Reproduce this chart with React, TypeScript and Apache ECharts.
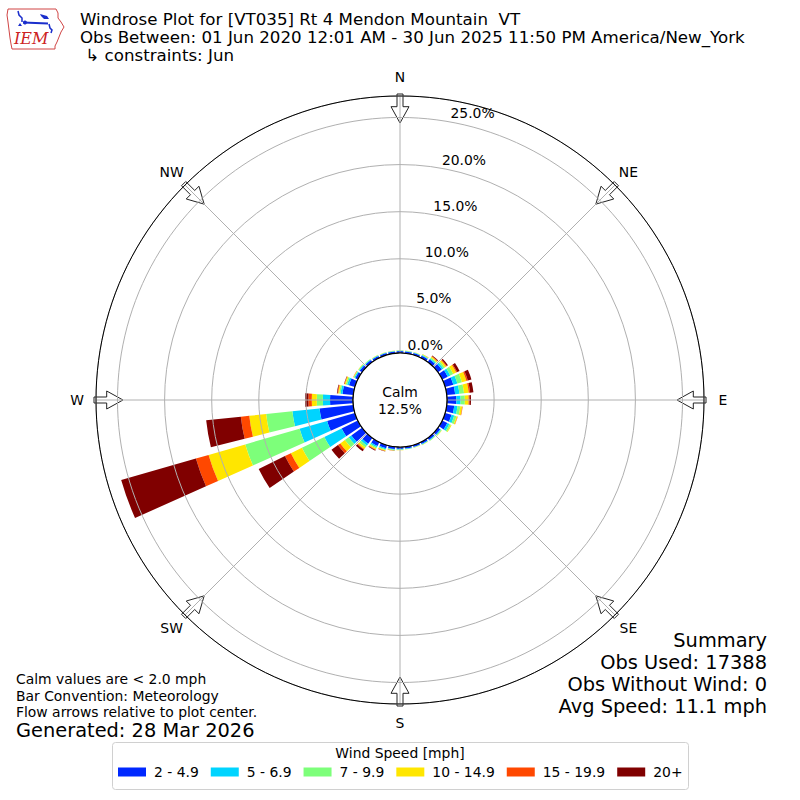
import React, { useEffect, useRef } from 'react';
import * as echarts from 'echarts';

// ---------- data ----------
const directions = [0, 10, 20, 30, 40, 50, 60, 70, 80, 90, 100, 110, 120, 130, 140, 150, 160, 170,
  180, 190, 200, 210, 220, 230, 240, 250, 260, 270, 280, 290, 300, 310, 320, 330, 340, 350];

const speedBins = ['2 - 4.9', '5 - 6.9', '7 - 9.9', '10 - 14.9', '15 - 19.9', '20+'];

// percent of observations per direction for each speed bin
const speed2to5 = [0.2, 0.2, 0.2, 0.25, 0.35, 0.5, 0.65, 0.9, 0.9, 1.0, 0.8, 0.7, 0.6, 0.3, 0.25, 0.22, 0.2, 0.2,
  0.2, 0.25, 0.35, 0.45, 0.75, 1.4, 1.9, 3.06, 3.6, 2.44, 1.15, 0.65, 0.3, 0.3, 0.25, 0.22, 0.2, 0.2];
const speed5to7 = [0.05, 0.05, 0.05, 0.08, 0.12, 0.2, 0.3, 0.45, 0.45, 0.45, 0.35, 0.3, 0.25, 0.1, 0.08, 0.07, 0.05, 0.05,
  0.07, 0.08, 0.12, 0.15, 0.25, 0.35, 2.05, 3.04, 2.9, 0.76, 0.2, 0.2, 0.1, 0.1, 0.08, 0.07, 0.05, 0.05];
const speed7to10 = [0.03, 0.03, 0.03, 0.06, 0.12, 0.2, 0.35, 0.5, 0.5, 0.45, 0.3, 0.25, 0.17, 0.07, 0.05, 0.04, 0.03, 0.03,
  0.05, 0.06, 0.1, 0.15, 0.25, 0.5, 2.65, 6.0, 2.8, 0.65, 0.15, 0.15, 0.08, 0.06, 0.05, 0.04, 0.03, 0.03];
const speed10to15 = [0.02, 0.02, 0.02, 0.04, 0.12, 0.18, 0.35, 0.5, 0.5, 0.4, 0.2, 0.12, 0.08, 0.03, 0.02, 0.02, 0.02, 0.02,
  0.03, 0.04, 0.08, 0.12, 0.2, 0.6, 1.3, 4.05, 1.8, 0.53, 0.12, 0.12, 0.05, 0.04, 0.02, 0.02, 0.02, 0.02];
const speed15to20 = [0, 0, 0, 0.01, 0.06, 0.08, 0.12, 0.15, 0.15, 0.1, 0.05, 0.03, 0, 0, 0, 0, 0, 0,
  0, 0.01, 0.03, 0.05, 0.1, 0.3, 0.7, 1.4, 0.9, 0.36, 0.07, 0.05, 0.02, 0, 0, 0, 0, 0];
const speed20plus = [0, 0, 0, 0.01, 0.08, 0.14, 0.28, 0.4, 0.35, 0.15, 0, 0, 0, 0, 0, 0, 0, 0,
  0, 0.01, 0.02, 0.08, 0.2, 0.85, 3.1, 8.25, 3.7, 0.36, 0.06, 0.03, 0, 0, 0, 0, 0, 0];

const radialTicks = [0, 5, 10, 15, 20, 25];
const radialMax = 27.28;
const compassLabels = ['N', 'NE', 'E', 'SE', 'S', 'SW', 'W', 'NW'];
const compassAngles = [0, 45, 90, 135, 180, 225, 270, 315];

const calmPercent = '12.5%';
const titleLines = [
  'Windrose Plot for [VT035] Rt 4 Mendon Mountain  VT',
  'Obs Between: 01 Jun 2020 12:01 AM - 30 Jun 2025 11:50 PM America/New_York',
  ' \u21b3 constraints: Jun',
];
const noteLines = ['Calm values are < 2.0 mph', 'Bar Convention: Meteorology', 'Flow arrows relative to plot center.'];
const generatedText = 'Generated: 28 Mar 2026';
const summaryLines = ['Summary', 'Obs Used: 17388', 'Obs Without Wind: 0', 'Avg Speed: 11.1 mph'];

const binColors = ['#0028ff', '#00d4ff', '#7dff7a', '#ffe600', '#ff4800', '#800000'];

// ---------- layout ----------
const CX = 400;
const CY = 400;
const R0 = 47;
const R1 = 304;
const FONT = 'DejaVu Sans';
const F10 = 13.9;
const F12 = 16.67;
const F14 = 19.4;

function rOf(v: number) {
  return R0 + (v / radialMax) * (R1 - R0);
}
function pt(compassDeg: number, r: number, w = 0): [number, number] {
  const a = (compassDeg * Math.PI) / 180;
  const ux = Math.sin(a), uy = -Math.cos(a);
  const vx = Math.cos(a), vy = Math.sin(a);
  return [CX + r * ux + w * vx, CY + r * uy + w * vy];
}

function buildOption() {
  const binValues = [speed2to5, speed5to7, speed7to10, speed10to15, speed15to20, speed20plus];

  const graphics: any[] = [];

  // arrows
  compassAngles.forEach((c) => {
    const pts = [
      pt(c, 306, -3), pt(c, 293.3, -3), pt(c, 293.3, -9), pt(c, 277, 0),
      pt(c, 293.3, 9), pt(c, 293.3, 3), pt(c, 306, 3),
    ];
    graphics.push({
      type: 'polygon', z: 1, silent: true,
      shape: { points: pts },
      style: { fill: '#ffffff', stroke: '#222222', lineWidth: 1 },
    });
  });
  // compass labels
  compassLabels.forEach((lab, i) => {
    const [x, y] = pt(compassAngles[i], 323);
    graphics.push({
      type: 'text', z: 10, silent: true, x, y,
      style: { text: lab, fontSize: F10, fontFamily: FONT, fill: '#000', align: 'center', verticalAlign: 'middle' },
    });
  });
  // radial tick labels
  radialTicks.forEach((v) => {
    const [x, y] = pt(10.5, rOf(v));
    graphics.push({
      type: 'text', z: 10, silent: true, x: x - 1, y: y - 2,
      style: { text: v.toFixed(1) + '%', fontSize: F10, fontFamily: FONT, fill: '#000', align: 'left', verticalAlign: 'bottom' },
    });
  });
  // calm circle
  graphics.push({
    type: 'circle', z: 20, silent: true,
    shape: { cx: CX, cy: CY, r: R0 },
    style: { fill: '#ffffff', stroke: '#000000', lineWidth: 1.2 },
  });
  graphics.push({
    type: 'text', z: 21, silent: true, x: CX, y: CY,
    style: { text: 'Calm\n' + calmPercent, fontSize: F10, lineHeight: 17, fontFamily: FONT, fill: '#000', align: 'center', verticalAlign: 'middle' },
  });
  // titles
  titleLines.forEach((t, i) => {
    graphics.push({
      type: 'text', z: 10, silent: true, x: 80, y: 19 + i * 18,
      style: { text: t, fontSize: F12, fontFamily: FONT, fill: '#000', align: 'left', verticalAlign: 'middle' },
    });
  });
  // notes
  noteLines.forEach((t, i) => {
    graphics.push({
      type: 'text', z: 10, silent: true, x: 16, y: 679 + i * 16.5,
      style: { text: t, fontSize: F10, fontFamily: FONT, fill: '#000', align: 'left', verticalAlign: 'middle' },
    });
  });
  graphics.push({
    type: 'text', z: 10, silent: true, x: 16, y: 730,
    style: { text: generatedText, fontSize: F14, fontFamily: FONT, fill: '#000', align: 'left', verticalAlign: 'middle' },
  });
  summaryLines.forEach((t, i) => {
    graphics.push({
      type: 'text', z: 10, silent: true, x: 767, y: 640 + i * 22,
      style: { text: t, fontSize: F14, fontFamily: FONT, fill: '#000', align: 'right', verticalAlign: 'middle' },
    });
  });
  // legend frame + title
  graphics.push({
    type: 'rect', z: 0, silent: true,
    shape: { x: 112.5, y: 742.5, width: 576, height: 47, r: 3 },
    style: { fill: '#ffffff', stroke: '#d0d0d0', lineWidth: 1 },
  });
  graphics.push({
    type: 'text', z: 10, silent: true, x: 400, y: 753,
    style: { text: 'Wind Speed [mph]', fontSize: F10, fontFamily: FONT, fill: '#000', align: 'center', verticalAlign: 'middle' },
  });
  // IEM logo
  graphics.push({
    type: 'polyline', z: 10, silent: true,
    shape: { points: [[8, 9], [56, 9], [58, 13], [58, 18], [61, 22], [64, 27], [61, 32], [59, 37], [57, 42], [55, 46], [55, 49], [12, 49], [11, 44], [10, 38], [9, 30], [8, 22], [7, 15], [8, 9]] },
    style: { stroke: '#d04545', lineWidth: 1, fill: null },
  });
  graphics.push({ type: 'polyline', z: 10, silent: true, shape: { points: [[18, 11], [19, 15], [22, 18], [22, 22]] }, style: { stroke: '#1a2ecc', lineWidth: 1.5, fill: null } });
  graphics.push({ type: 'polygon', z: 10, silent: true, shape: { points: [[18, 26], [20, 23], [22, 26]] }, style: { fill: '#1a2ecc' } });
  graphics.push({ type: 'line', z: 10, silent: true, shape: { x1: 23, y1: 22.5, x2: 48, y2: 23.5 }, style: { stroke: '#1a2ecc', lineWidth: 2 } });
  graphics.push({ type: 'circle', z: 10, silent: true, shape: { cx: 25, cy: 22.5, r: 2 }, style: { fill: '#1a2ecc' } });
  graphics.push({ type: 'polygon', z: 10, silent: true, shape: { points: [[40, 14], [47, 16], [49, 19], [44, 19], [41, 16]] }, style: { fill: '#1a2ecc' } });
  graphics.push({ type: 'polyline', z: 10, silent: true, shape: { points: [[49, 24], [50, 28], [52, 30], [51, 33]] }, style: { stroke: '#1a2ecc', lineWidth: 1.5, fill: null } });
  graphics.push({
    type: 'text', z: 10, silent: true, x: 14, y: 46,
    style: { text: 'IEM', fontSize: 16, fontFamily: 'DejaVu Serif', fontStyle: 'italic', fill: '#cc2222', align: 'left', verticalAlign: 'bottom' },
  });

  return {
    animation: false,
    backgroundColor: '#ffffff',
    textStyle: { fontFamily: FONT },
    polar: [
      { center: [CX, CY], radius: [R0, R1] },
      { center: [CX, CY], radius: [R0, R1] },
    ],
    angleAxis: [
      {
        polarIndex: 0, type: 'category', data: directions.map(String), startAngle: 95, clockwise: true,
        boundaryGap: true,
        axisLine: { show: false }, axisTick: { show: false }, axisLabel: { show: false },
        splitLine: { show: false }, splitArea: { show: false },
      },
      {
        polarIndex: 1, type: 'value', min: 0, max: 360, interval: 45, startAngle: 90, clockwise: true, z: 5,
        axisLine: { show: true, lineStyle: { color: '#000000', width: 1 } },
        axisTick: { show: false }, axisLabel: { show: false },
        splitLine: { show: true, lineStyle: { color: '#b0b0b0', width: 1 } },
      },
    ],
    radiusAxis: [
      {
        polarIndex: 0, type: 'value', min: 0, max: radialMax, interval: 5, z: 5,
        axisLine: { show: false }, axisTick: { show: false }, axisLabel: { show: false },
        splitLine: { show: true, lineStyle: { color: '#b0b0b0', width: 1 } },
      },
      {
        polarIndex: 1, type: 'value', min: 0, max: radialMax, z: 5,
        axisLine: { show: false }, axisTick: { show: false }, axisLabel: { show: false },
        splitLine: { show: false },
      },
    ],
    legend: {
      data: speedBins, left: 118, top: 765, padding: 0, icon: 'rect', orient: 'horizontal',
      itemWidth: 28, itemHeight: 9, itemGap: 12, selectedMode: false,
      textStyle: { fontSize: F10, fontFamily: FONT, color: '#000', padding: [0, 0, 0, 3] },
    },
    graphic: graphics,
    series: speedBins.map((name, i) => ({
      type: 'bar', name, coordinateSystem: 'polar', polarIndex: 0, stack: 'wind',
      data: binValues[i], barCategoryGap: '20%', silent: true,
      itemStyle: { color: binColors[i] },
    })),
  };
}

export default function App() {
  const ref = useRef<HTMLDivElement>(null);
  useEffect(() => {
    if (!ref.current) return;
    const chart = echarts.init(ref.current, null, { renderer: 'svg' });
    chart.setOption(buildOption() as any);
    return () => chart.dispose();
  }, []);
  return <div ref={ref} style={{ position: 'absolute', left: 0, top: 0, width: 800, height: 800 }} />;
}
